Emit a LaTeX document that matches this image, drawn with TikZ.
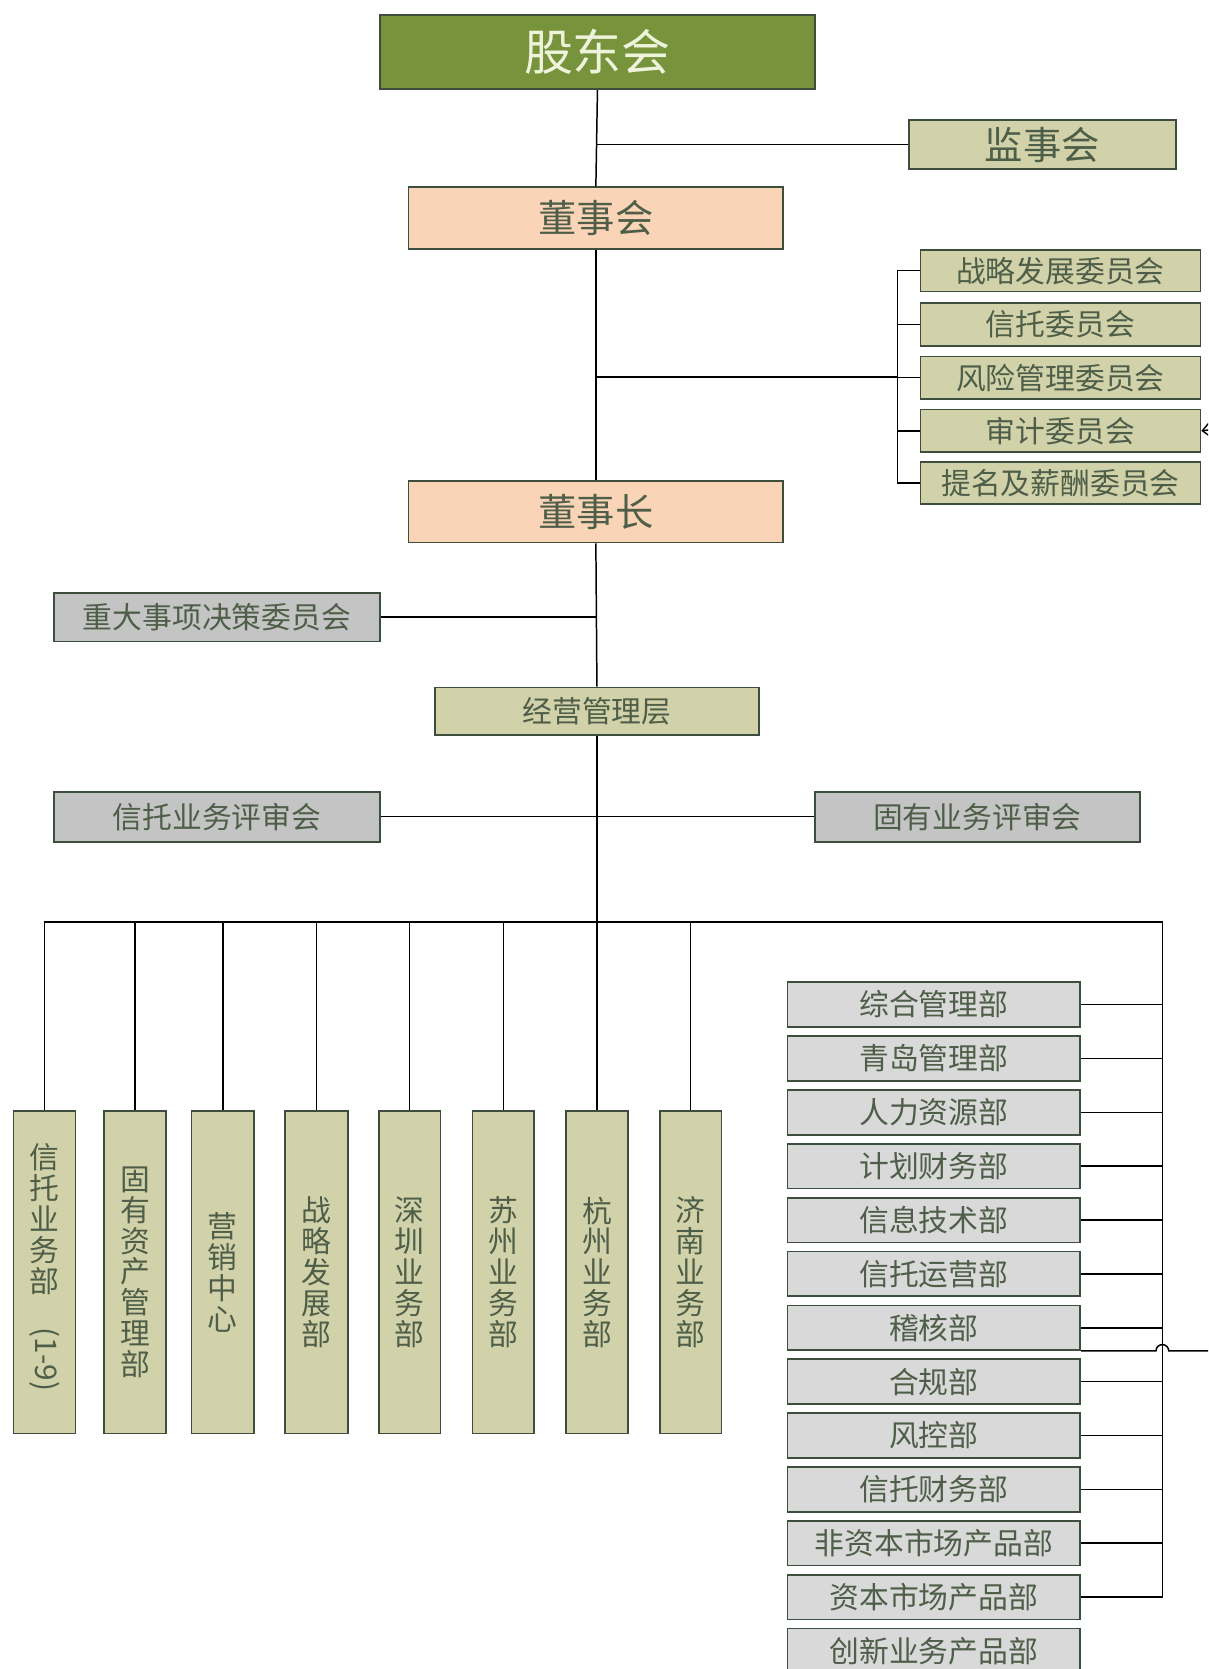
\documentclass[tikz,border=0pt]{standalone}
\usepackage{fontspec}
\setmainfont{Noto Sans CJK SC}
\usetikzlibrary{arrows.meta}
\definecolor{bordc}{HTML}{3E4E3C}
\definecolor{txtc}{HTML}{4E5E48}
\definecolor{topfill}{HTML}{77933C}
\definecolor{toptxt}{HTML}{EEF4DC}
\definecolor{peach}{HTML}{FAD4B6}
\definecolor{khaki}{HTML}{D2D2AA}
\definecolor{midgray}{HTML}{C4C4C4}
\definecolor{ltgray}{HTML}{D9D9D9}
\newcommand\bx[7]{\node[box,#6,minimum width={#4pt-#2pt},minimum height={#5pt-#3pt}] (#1) at (#2,#3) {#7};}
\begin{document}
\begin{tikzpicture}[x=1pt,y=-1pt,
  box/.style={draw=bordc, line width=1.6pt, inner sep=0pt, anchor=north west, text=txtc, align=center},
  big/.style={font=\fontsize{36}{40}\selectfont},
  med/.style={font=\fontsize{28}{30}\selectfont},
  vert/.style={font=\fontsize{28}{29}\selectfont, fill=khaki},
  conn/.style={line width=1.4pt, draw=black}]
\clip (0,0) rectangle (1135,1568);
\fill[white] (0,0) rectangle (1135,1568);
% top levels
\bx{gdh}{356}{13}{765}{83}{fill=topfill,text=toptxt,font=\fontsize{46}{50}\selectfont}{股东会}
\bx{jsh}{853}{112}{1104}{158}{fill=khaki,big}{监事会}
\bx{dsh}{383}{175}{735}{233}{fill=peach,big}{董事会}
\bx{c1}{864}{234}{1127}{273}{fill=khaki,med}{战略发展委员会}
\bx{c2}{864}{284}{1127}{324}{fill=khaki,med}{信托委员会}
\bx{c3}{864}{334}{1127}{374}{fill=khaki,med}{风险管理委员会}
\bx{c4}{864}{384}{1127}{424}{fill=khaki,med}{审计委员会}
\bx{c5}{864}{433}{1127}{473}{fill=khaki,med}{提名及薪酬委员会}
\bx{dsz}{383}{451}{735}{509}{fill=peach,big}{董事长}
\bx{zd}{50}{556}{356}{602}{fill=midgray,med}{重大事项决策委员会}
\bx{jy}{408}{645}{712}{690}{fill=khaki,med}{经营管理层}
\bx{xt}{50}{743}{356}{790}{fill=midgray,med}{信托业务评审会}
\bx{gy}{765}{743}{1070}{790}{fill=midgray,med}{固有业务评审会}
% vertical departments
\bx{v1}{12}{1043}{70}{1346}{vert}{信\\托\\业\\务\\部\\[4pt]\rotatebox{-90}{(1-9)}\\[8pt]}
\bx{v2}{97}{1043}{155}{1346}{vert}{固\\有\\资\\产\\管\\理\\部}
\bx{v3}{179}{1043}{238}{1346}{vert}{营\\销\\中\\心}
\bx{v4}{267}{1043}{326}{1346}{vert}{战\\略\\发\\展\\部}
\bx{v5}{355}{1043}{413}{1346}{vert}{深\\圳\\业\\务\\部}
\bx{v6}{443}{1043}{501}{1346}{vert}{苏\\州\\业\\务\\部}
\bx{v7}{531}{1043}{589}{1346}{vert}{杭\\州\\业\\务\\部}
\bx{v8}{619}{1043}{677}{1346}{vert}{济\\南\\业\\务\\部}
% right column
\foreach \n/\t [count=\i] in {r1/综合管理部,r2/青岛管理部,r3/人力资源部,r4/计划财务部,r5/信息技术部,r6/信托运营部,r7/稽核部,r8/合规部,r9/风控部,r10/信托财务部,r11/非资本市场产品部,r12/资本市场产品部,r13/创新业务产品部}{
  \pgfmathsetmacro\ytop{922+50.6*(\i-1)}
  \pgfmathsetmacro\ybot{\ytop+42}
  \bx{\n}{739}{\ytop}{1014}{\ybot}{fill=ltgray,med}{\t}
}
% coordinates
\coordinate (busL) at (41,866);
\coordinate (busR) at (1092,866);
\coordinate (bk) at (843,354);
\coordinate (offA) at (1135,404);
\coordinate (offB) at (1135,0);
% main trunk
\draw[conn] (gdh.south) -- (dsh.north);
\draw[conn] (dsh.south) -- (dsz.north);
\draw[conn] (dsz.south) -- (jy.north);
\draw[conn] (jy.south) -- (jy.south |- busL);
\draw[conn] (gdh.south |- jsh.west) -- (jsh.west);
% committees
\draw[conn] (dsh.south |- bk) -- (bk);
\draw[conn] (c1.west) -- (c1.west -| bk) -- (c5.west -| bk) -- (c5.west);
\foreach \c in {c2,c3,c4}{\draw[conn] (\c.west -| bk) -- (\c.west);}
\draw[conn, -{Straight Barb[length=7pt,width=13pt,line width=1.3pt]}] (offA) -- (c4.east);
% side bodies
\draw[conn] (zd.east) -- (zd.east -| dsz.south);
\draw[conn] (xt.east) -- (gy.west);
% bus
\draw[conn] (busL) -- (busR) -- (busR |- r12.east) -- (r12.east);
\foreach \v in {v1,v2,v3,v4,v5,v6,v7,v8}{\draw[conn] (\v.north) -- (\v.north |- busL);}
\foreach \r in {r1,r2,r3,r4,r5,r6,r7,r8,r9,r10,r11}{\draw[conn] (\r.east) -- (\r.east -| busR);}
% audit line with hop
\draw[conn] (r7.south east) -- ([xshift=-6pt]r7.south east -| busR) arc[start angle=180,end angle=0,radius=6pt] -- (r7.south east -| offB);
\end{tikzpicture}
\end{document}
